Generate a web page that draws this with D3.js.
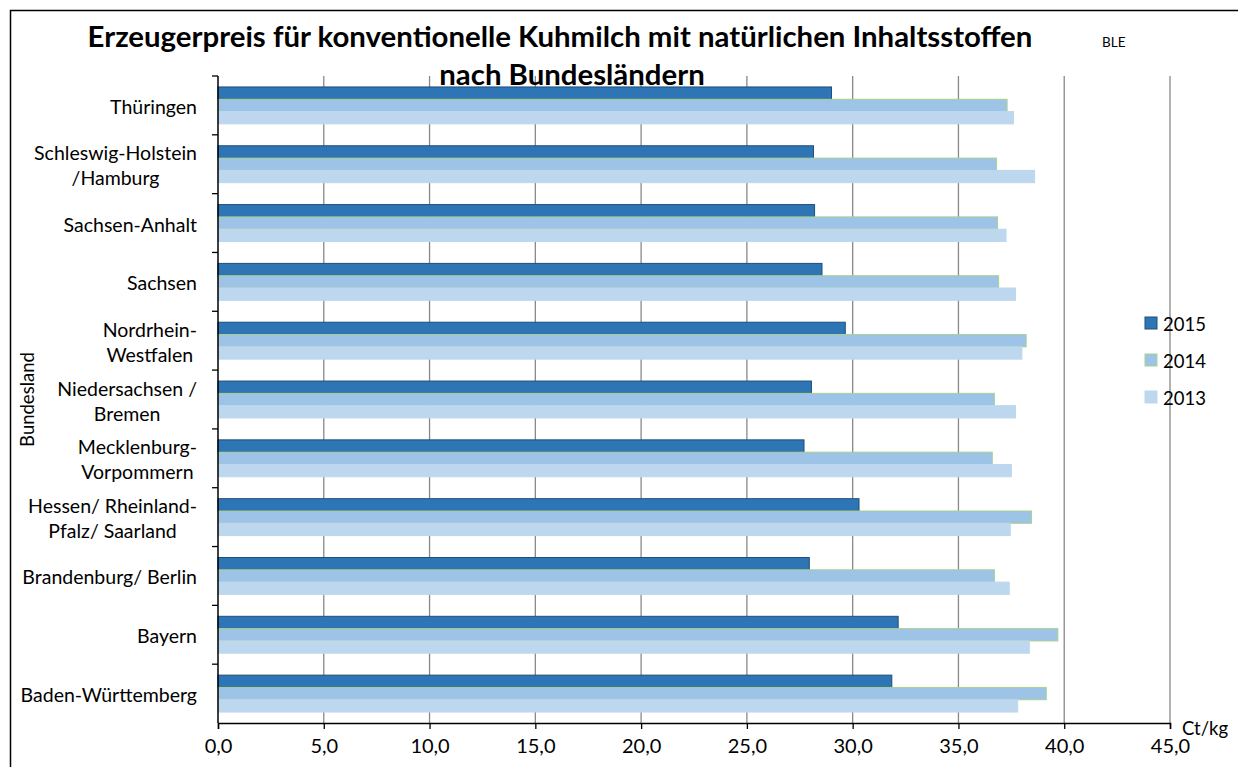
<!DOCTYPE html>
<html>
<head>
<meta charset="utf-8">
<script src="https://cdn.jsdelivr.net/npm/d3@7"></script>
<style>
  body { margin: 0; background: #fff; }
  svg { display: block; font-family: Lato, "Open Sans", sans-serif; }
</style>
</head>
<body>
<svg id="chart"></svg>
<script>
// data, top to bottom as shown
const categories = [
  'Thüringen',
  'Schleswig-Holstein\n/Hamburg',
  'Sachsen-Anhalt',
  'Sachsen',
  'Nordrhein-\nWestfalen',
  'Niedersachsen /\nBremen',
  'Mecklenburg-\nVorpommern',
  'Hessen/ Rheinland-\nPfalz/ Saarland',
  'Brandenburg/ Berlin',
  'Bayern',
  'Baden-Württemberg'
];
const years = ['2015', '2014', '2013'];
const values2015 = [29.0, 28.15, 28.2, 28.55, 29.65, 28.05, 27.7, 30.3, 27.95, 32.15, 31.85];
const values2014 = [37.3, 36.8, 36.85, 36.9, 38.2, 36.7, 36.6, 38.45, 36.7, 39.7, 39.15];
const values2013 = [37.6, 38.6, 37.25, 37.7, 38.0, 37.7, 37.5, 37.45, 37.4, 38.35, 37.8];
const xTicks = [0, 5, 10, 15, 20, 25, 30, 35, 40, 45];

const colors = { '2015': '#2e75b6', '2014': '#9dc3e6', '2013': '#bdd7ee' };
const strokes = { '2015': '#1f4e79', '2014': '#a9d18e', '2013': '#bdd7ee' };

const width = 1238;
const height = 767;
const margin = { top: 76, left: 218, right: 1170, bottom: 723 };

const svg = d3.select('#chart')
  .attr('width', width)
  .attr('height', height);

// outer frame (right and bottom edges run off the picture)
svg.append('rect')
  .attr('x', 10.5).attr('y', 10.5)
  .attr('width', 1300).attr('height', 900)
  .attr('fill', 'none')
  .attr('stroke', '#000')
  .attr('stroke-width', 1.5);

const data = categories.map((c, i) => ({
  cat: c,
  '2015': values2015[i],
  '2014': values2014[i],
  '2013': values2013[i]
}));

// scales
const xScale = d3.scaleLinear()
  .domain([0, 45])
  .range([margin.left, margin.right]);

const yScale = d3.scaleBand()
  .domain(categories)
  .range([margin.top, margin.bottom])
  .padding(0);

const yInner = d3.scaleBand()
  .domain(years)
  .range([0, yScale.bandwidth()])
  .paddingInner(0)
  .paddingOuter(0.89);

// gridlines
svg.append('g')
  .selectAll('line')
  .data(xTicks.filter(t => t > 0))
  .enter()
  .append('line')
  .attr('x1', d => xScale(d)).attr('x2', d => xScale(d))
  .attr('y1', margin.top).attr('y2', margin.bottom)
  .attr('stroke', '#888')
  .attr('stroke-width', 1.3);

// bars
const groups = svg.append('g')
  .selectAll('g')
  .data(data)
  .enter()
  .append('g')
  .attr('transform', d => `translate(0, ${yScale(d.cat)})`);

groups.selectAll('rect')
  .data(d => years.map(y => ({ year: y, value: d[y] })))
  .enter()
  .append('rect')
  .attr('x', xScale(0))
  .attr('y', d => yInner(d.year))
  .attr('width', d => xScale(d.value) - xScale(0))
  .attr('height', yInner.bandwidth())
  .attr('fill', d => colors[d.year])
  .attr('stroke', d => strokes[d.year])
  .attr('stroke-width', 1);

// x axis
const xAxis = d3.axisBottom(xScale)
  .tickValues(xTicks)
  .tickSize(6)
  .tickFormat(d => d3.format('.1f')(d).replace('.', ','));

const gx = svg.append('g')
  .attr('transform', `translate(0, ${margin.bottom})`)
  .call(xAxis);
gx.select('.domain').attr('stroke', '#000').attr('stroke-width', 1.5);
gx.selectAll('.tick line').attr('stroke', '#000').attr('stroke-width', 1.3);
gx.selectAll('.tick text')
  .attr('y', 16)
  .attr('font-size', 20)
  .attr('font-family', 'Lato, sans-serif')
  .attr('fill', '#000');

// y axis (ticks at band boundaries)
svg.append('line')
  .attr('x1', margin.left).attr('x2', margin.left)
  .attr('y1', margin.top).attr('y2', margin.bottom)
  .attr('stroke', '#000').attr('stroke-width', 1.5);

svg.append('g')
  .selectAll('line')
  .data(categories)
  .enter()
  .append('line')
  .attr('x1', margin.left - 6).attr('x2', margin.left)
  .attr('y1', d => yScale(d)).attr('y2', d => yScale(d))
  .attr('stroke', '#000').attr('stroke-width', 1.3);

// category labels: lines centred in a block whose right edge is at 197
const labelSize = 19.5;
const labelGroups = svg.append('g')
  .selectAll('g')
  .data(categories)
  .enter()
  .append('g');

labelGroups.each(function (c) {
  const g = d3.select(this);
  const lines = c.split('\n');
  const texts = lines.map((ln, i) => g.append('text')
    .attr('font-size', labelSize)
    .attr('fill', '#000')
    .attr('text-anchor', 'middle')
    .attr('dominant-baseline', 'central')
    .attr('y', yScale(c) + yScale.bandwidth() / 2 + (i - (lines.length - 1) / 2) * 25 + 1)
    .text(ln));
  const maxW = d3.max(texts, t => t.node().getComputedTextLength());
  texts.forEach(t => t.attr('x', 197 - maxW / 2));
});

// axis titles
svg.append('text')
  .attr('transform', `translate(27, ${(margin.top + margin.bottom) / 2}) rotate(-90)`)
  .attr('text-anchor', 'middle')
  .attr('dominant-baseline', 'central')
  .attr('font-size', 18.5)
  .text('Bundesland');

svg.append('text')
  .attr('x', 1182)
  .attr('y', 728)
  .attr('dominant-baseline', 'central')
  .attr('font-size', 18.5)
  .text('Ct/kg');

svg.append('text')
  .attr('x', 1102)
  .attr('y', 42)
  .attr('dominant-baseline', 'central')
  .attr('font-size', 13.5)
  .text('BLE');

// title
const title1 = svg.append('text')
  .attr('x', 560)
  .attr('y', 47)
  .attr('text-anchor', 'middle')
  .attr('font-weight', 'bold')
  .attr('font-size', 26)
  .text('Erzeugerpreis für konventionelle Kuhmilch mit natürlichen Inhaltsstoffen');
const w1 = title1.node().getComputedTextLength();
const titleSize = 26 * 945 / w1;
title1.attr('font-size', titleSize);

svg.append('text')
  .attr('x', 572)
  .attr('y', 85)
  .attr('text-anchor', 'middle')
  .attr('font-weight', 'bold')
  .attr('font-size', titleSize)
  .text('nach Bundesländern');

// legend
const legend = svg.append('g')
  .selectAll('g')
  .data(years)
  .enter()
  .append('g')
  .attr('transform', (d, i) => `translate(1145, ${323 + i * 37})`);

legend.append('rect')
  .attr('x', 0).attr('y', -6)
  .attr('width', 12).attr('height', 12)
  .attr('fill', d => colors[d])
  .attr('stroke', d => strokes[d])
  .attr('stroke-width', 1);

legend.append('text')
  .attr('x', 18)
  .attr('y', 1)
  .attr('dominant-baseline', 'central')
  .attr('font-size', 18.5)
  .text(d => d);
</script>
</body>
</html>
